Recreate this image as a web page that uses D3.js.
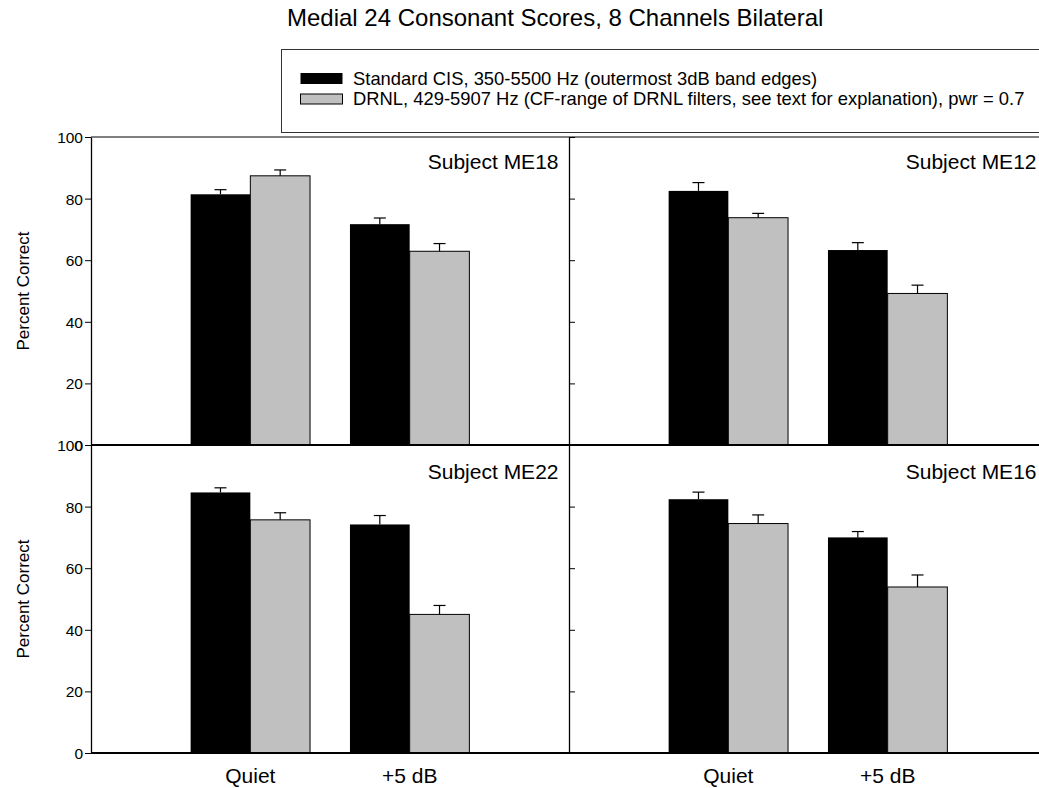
<!DOCTYPE html>
<html><head><meta charset="utf-8">
<script src="https://cdn.jsdelivr.net/npm/d3@7"></script>
<style>
body{margin:0;background:#fff}
svg text{font-family:"Liberation Sans",Arial,Helvetica,sans-serif;fill:#000}
</style>
</head><body><svg id="c" width="1039" height="788"></svg>
<script>
const title = "Medial 24 Consonant Scores, 8 Channels Bilateral";
const conditions = ["Quiet", "+5 dB"];
const seriesNames = ["Standard CIS, 350-5500 Hz (outermost 3dB band edges)",
  "DRNL, 429-5907 Hz (CF-range of DRNL filters, see text for explanation), pwr = 0.7"];
const subjects = ["Subject ME18", "Subject ME12", "Subject ME22", "Subject ME16"];
const cisValues  = [[81.4, 71.7], [82.5, 63.3], [84.6, 74.2], [82.4, 70.0]];
const cisErrors  = [[1.5, 2.0], [2.7, 2.4], [1.5, 2.9], [2.3, 1.9]];
const drnlValues = [[87.4, 62.9], [73.8, 49.2], [75.7, 45.0], [74.5, 53.9]];
const drnlErrors = [[1.9, 2.5], [1.4, 2.7], [2.3, 2.9], [2.8, 3.9]];
const yTicks = [0, 20, 40, 60, 80, 100];
const yLabel = "Percent Correct";

const svg = d3.select("#c");
const colors = ["#000000", "#c0c0c0"];
const panelW = 478;
const colX = [91, 569];
const rowY = [[445, 137], [753, 445]];
const barW = 59.7;

// Title
svg.append("text").attr("x", 287).attr("y", 26)
  .style("font-size", "24px").text(title);

// Legend
const leg = svg.append("g");
leg.append("rect").attr("x", 281.5).attr("y", 49.5).attr("width", 800).attr("height", 83)
  .attr("fill", "none").attr("stroke", "#333").attr("stroke-width", 1);
const legRows = [{y: 73, h: 11, base: 84.5}, {y: 94, h: 10, base: 105}];
seriesNames.forEach((name, i) => {
  leg.append("rect").attr("x", 300.5).attr("y", legRows[i].y).attr("width", 42).attr("height", legRows[i].h)
    .attr("fill", colors[i]).attr("stroke", "#000").attr("stroke-width", i ? 1 : 0);
  leg.append("text").attr("x", 353).attr("y", legRows[i].base).style("font-size", "18.4px").text(name);
});

subjects.forEach((subj, p) => {
  const col = p % 2, row = Math.floor(p / 2);
  const x0 = colX[col];
  const x = d3.scaleLinear().domain([0, 3]).range([x0, x0 + panelW]);
  const y = d3.scaleLinear().domain([0, 100]).range(rowY[row]);
  const g = svg.append("g");

  conditions.forEach((c, j) => {
    const cx = x(j + 1);
    const series = [[cisValues[p][j], cisErrors[p][j]], [drnlValues[p][j], drnlErrors[p][j]]];
    series.forEach(([v, e], s) => {
      const bx = s === 0 ? cx - barW : cx;
      g.append("rect").attr("x", bx).attr("y", y(v)).attr("width", barW).attr("height", y(0) - y(v))
        .attr("fill", colors[s]).attr("stroke", "#000").attr("stroke-width", s ? 1 : 0);
      const mx = bx + barW / 2;
      g.append("line").attr("x1", mx).attr("x2", mx).attr("y1", y(v)).attr("y2", y(v + e))
        .attr("stroke", "#000").attr("stroke-width", 1.2);
      g.append("line").attr("x1", mx - 6).attr("x2", mx + 6).attr("y1", y(v + e)).attr("y2", y(v + e))
        .attr("stroke", "#000").attr("stroke-width", 1.2);
    });
    if (row === 1) {
      svg.append("text").attr("x", cx).attr("y", 783).attr("text-anchor", "middle")
        .style("font-size", "21px").text(c);
    }
  });

  // axes
  if (col === 0) {
    const ax = g.append("g").attr("transform", `translate(${x0},0)`)
      .call(d3.axisLeft(y).tickValues(yTicks).tickSize(6).tickSizeOuter(0).tickPadding(2));
    ax.selectAll("text").style("font-size", "15.5px").attr("dy", "0.35em");
    ax.select(".domain").attr("stroke", "#000").attr("stroke-width", 1.3);
    svg.append("text").attr("transform", `translate(29,${(rowY[row][0] + rowY[row][1]) / 2}) rotate(-90)`)
      .attr("text-anchor", "middle").style("font-size", "17px").text(yLabel);
  } else {
    const ax = g.append("g").attr("transform", `translate(${x0},0)`)
      .call(d3.axisRight(y).tickValues(yTicks).tickSize(6).tickSizeOuter(0).tickFormat(""));
    ax.select(".domain").attr("stroke", "#000").attr("stroke-width", 1.3);
  }
  // baseline (0) line, thicker
  g.append("line").attr("x1", x0).attr("x2", x0 + panelW).attr("y1", y(0)).attr("y2", y(0))
    .attr("stroke", "#000").attr("stroke-width", 2);
  if (row === 0) {
    g.append("line").attr("x1", x0).attr("x2", x0 + panelW).attr("y1", y(100)).attr("y2", y(100))
      .attr("stroke", "#000").attr("stroke-width", 1.2);
  }
  g.append("text").attr("x", x0 + panelW - 10.5).attr("y", row === 0 ? 169 : 479)
    .attr("text-anchor", "end").style("font-size", "21px").text(subj);
});
</script>
</body></html>
